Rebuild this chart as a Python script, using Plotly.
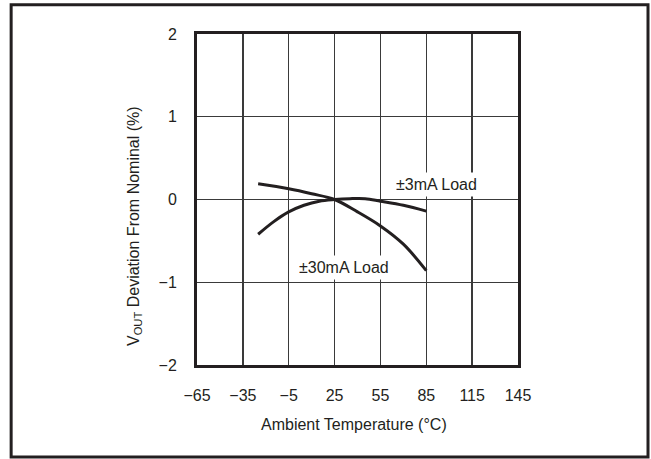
import plotly.graph_objects as go

# Data
temp_30ma = [-25, -5, 10, 25, 40, 55, 70, 85]
dev_30ma = [0.19, 0.13, 0.07, 0.0, -0.15, -0.32, -0.54, -0.86]

temp_3ma = [-25, -15, -5, 5, 15, 25, 35, 45, 55, 70, 85]
dev_3ma = [-0.42, -0.27, -0.15, -0.07, -0.02, 0.0, 0.01, 0.01, -0.02, -0.07, -0.14]

x_ticks = [-65, -35, -5, 25, 55, 85, 115, 145]
y_ticks = [-2, -1, 0, 1, 2]

label_3ma = "±3mA Load"
label_30ma = "±30mA Load"
x_title = "Ambient Temperature (°C)"
y_title = "V<sub>OUT</sub> Deviation From Nominal (%)"

FONT = "Liberation Sans, Arial, Helvetica, sans-serif"
FS = 16
TXT = "#231f20"

fig = go.Figure()
fig.add_trace(go.Scatter(x=temp_30ma, y=dev_30ma, mode="lines",
                         line=dict(color="#231f20", width=3, shape="spline"),
                         showlegend=False, hoverinfo="skip"))
fig.add_trace(go.Scatter(x=temp_3ma, y=dev_3ma, mode="lines",
                         line=dict(color="#231f20", width=3, shape="spline"),
                         showlegend=False, hoverinfo="skip"))

axis_common = dict(
    showgrid=True, gridcolor="#3a3a3a", gridwidth=1.3,
    showline=True, linecolor="#231f20", linewidth=3, mirror=True,
    zeroline=False, ticks="", ticklabelstandoff=14,
    tickfont=dict(family=FONT, size=FS, color=TXT),
)

fig.update_xaxes(range=[-65, 145], tickmode="array", tickvals=x_ticks,
                 **axis_common)
fig.update_yaxes(range=[-2, 2], tickmode="array", tickvals=y_ticks,
                 **axis_common)

fig.add_annotation(x=92, y=0.03, xref="x", yref="y", text=label_3ma,
                   showarrow=False, xanchor="center", yanchor="bottom",
                   bgcolor="white", borderpad=3,
                   font=dict(family=FONT, size=FS, color=TXT))
fig.add_annotation(x=31, y=-0.975, xref="x", yref="y", text=label_30ma,
                   showarrow=False, xanchor="center", yanchor="bottom",
                   bgcolor="white", borderpad=3,
                   font=dict(family=FONT, size=FS, color=TXT))

fig.add_annotation(x=0.488, y=-0.18, xref="paper", yref="paper", text=x_title,
                   showarrow=False, xanchor="center", yanchor="middle",
                   font=dict(family=FONT, size=FS, color=TXT))
fig.add_annotation(x=-0.193, y=0.42, xref="paper", yref="paper", text=y_title,
                   showarrow=False, xanchor="center", yanchor="middle",
                   textangle=-90,
                   font=dict(family=FONT, size=FS, color=TXT))

# outer frame
fig.add_shape(type="rect", xref="paper", yref="paper",
              x0=-0.579, x1=1.405, y0=-0.278, y1=1.088,
              line=dict(color="#231f20", width=3), fillcolor="rgba(0,0,0,0)")

fig.update_layout(
    width=651, height=459,
    margin=dict(l=197, r=133, t=34, b=94),
    paper_bgcolor="white", plot_bgcolor="white",
    font=dict(family=FONT, size=FS, color=TXT),
)

fig.write_html("out.html",
               config={"displayModeBar": False, "staticPlot": True},
               post_script="document.body.style.margin='0';document.body.style.overflow='hidden';")
